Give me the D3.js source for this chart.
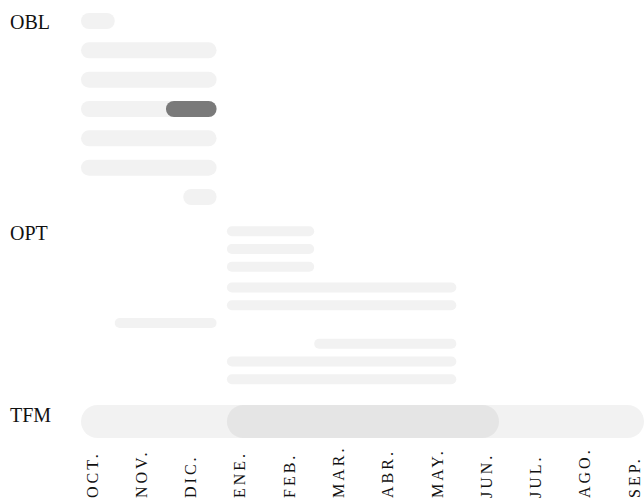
<!DOCTYPE html>
<html>
<head>
<meta charset="utf-8">
<script src="https://cdn.jsdelivr.net/npm/d3@7"></script>
<style>
  html, body { margin: 0; padding: 0; background: #fff; }
  svg { display: block; }
</style>
</head>
<body>
<svg id="chart" width="644" height="504"></svg>
<script>
// ---- data ----
const months = ["OCT.", "NOV.", "DIC.", "ENE.", "FEB.", "MAR.", "ABR.", "MAY.", "JUN.", "JUL.", "AGO.", "SEP."];
const sections = ["OBL", "OPT", "TFM"];

// start / end in months from the 1st of October
const oblStart = [0, 0, 0, 0, 0, 0, 2.18];
const oblEnd   = [0.72, 2.89, 2.89, 2.89, 2.89, 2.89, 2.89];
// highlighted part of OBL rows: [row, start, end]
const oblHighlight = [[3, 1.81, 2.89]];

const optStart = [3.11, 3.11, 3.11, 3.11, 3.11, 0.72, 4.97, 3.11, 3.11];
const optEnd   = [4.97, 4.97, 4.97, 8.0, 8.0, 2.89, 8.0, 8.0, 8.0];

const tfmStart = [0];
const tfmEnd   = [12];
const tfmHighlight = [[0, 3.11, 8.91]];

// ---- layout ----
const svg = d3.select("#chart");
const x = d3.scaleLinear().domain([0, 12]).range([81, 644]);
const xLabel = d3.scalePoint().domain(months).range([92, 634]);

const yObl = d3.scalePoint().domain(d3.range(oblStart.length)).range([21, 197]);
const yOptGroup = d3.scalePoint().domain([0, 1, 2]).range([249, 361.5]);
const yOptInner = d3.scalePoint().domain([0, 1, 2]).range([-17.8, 17.8]);
const yOpt = i => yOptGroup(Math.floor(i / 3)) + yOptInner(i % 3);
const yTfm = d3.scalePoint().domain([0]).range([421.5, 421.5]);

const light = "#f2f2f2";

function bars(g, starts, ends, yFn, h, color) {
  g.selectAll(null)
    .data(starts.map((s, i) => ({ i, s, e: ends[i] })))
    .join("rect")
    .attr("x", d => x(d.s))
    .attr("width", d => x(d.e) - x(d.s))
    .attr("y", d => yFn(d.i) - h / 2)
    .attr("height", h)
    .attr("rx", h / 2)
    .attr("fill", color);
}
function highlights(g, list, yFn, h, color) {
  g.selectAll(null)
    .data(list)
    .join("rect")
    .attr("x", d => x(d[1]))
    .attr("width", d => x(d[2]) - x(d[1]))
    .attr("y", d => yFn(d[0]) - h / 2)
    .attr("height", h)
    .attr("rx", h / 2)
    .attr("fill", color);
}

const gObl = svg.append("g");
bars(gObl, oblStart, oblEnd, yObl, 16, light);
highlights(gObl, oblHighlight, yObl, 16, "#7a7a7a");

const gOpt = svg.append("g");
bars(gOpt, optStart, optEnd, yOpt, 10, light);

const gTfm = svg.append("g");
bars(gTfm, tfmStart, tfmEnd, yTfm, 33, light);
highlights(gTfm, tfmHighlight, yTfm, 33, "#e5e5e5");

// section labels
const sectionBaseline = [29, 240, 422];
svg.append("g")
  .selectAll("text")
  .data(sections)
  .join("text")
  .attr("x", 10)
  .attr("y", (d, i) => sectionBaseline[i])
  .attr("font-family", "'Liberation Serif', 'DejaVu Serif', serif")
  .attr("font-size", 20)
  .attr("fill", "#111")
  .text(d => d);

// month labels
svg.append("g")
  .selectAll("text")
  .data(months)
  .join("text")
  .attr("transform", d => `translate(${xLabel(d)},498) rotate(-90)`)
  .attr("dy", "0.35em")
  .attr("text-anchor", "start")
  .attr("font-family", "'Liberation Serif', 'DejaVu Serif', serif")
  .attr("font-size", 16)
  .attr("letter-spacing", 3)
  .attr("fill", "#111")
  .text(d => d);
</script>
</body>
</html>
